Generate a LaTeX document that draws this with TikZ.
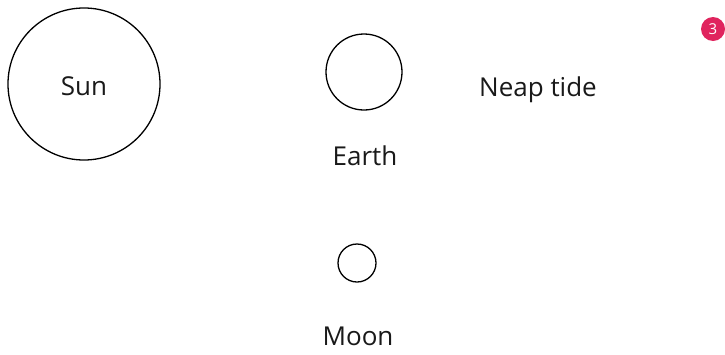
\documentclass[tikz,border=0pt]{standalone}
\usepackage{fontspec}
\setmainfont{Open Sans}
\definecolor{badgered}{HTML}{E0245E}
\begin{document}
\begin{tikzpicture}[x=1pt,y=-1pt,
  body/.style={draw=black,line width=1.3pt,circle,inner sep=0pt},
  lbl/.style={font=\fontsize{26}{30}\selectfont,text=black!90,inner sep=1pt},
  badge/.style={circle,fill=badgered,text=white,inner sep=0pt,minimum size=24pt,font=\fontsize{15}{17}\selectfont}]
\useasboundingbox (0,0) rectangle (725,354);
\node[body,minimum size=152pt] (sun) at (84,84) {};
\node[lbl] (sunl) at (84,86) {Sun};
\node[body,minimum size=76pt] (earth) at (364,72) {};
\node[lbl] (earthl) at (365,156) {Earth};
\node[body,minimum size=38pt] (moon) at (357,263) {};
\node[lbl,anchor=base] (moonl) at (358,345) {Moon};
\node[lbl] (neap) at (538,90) {Neap tide};
\node[badge] (b) at (713,29) {3};
\end{tikzpicture}
\end{document}
